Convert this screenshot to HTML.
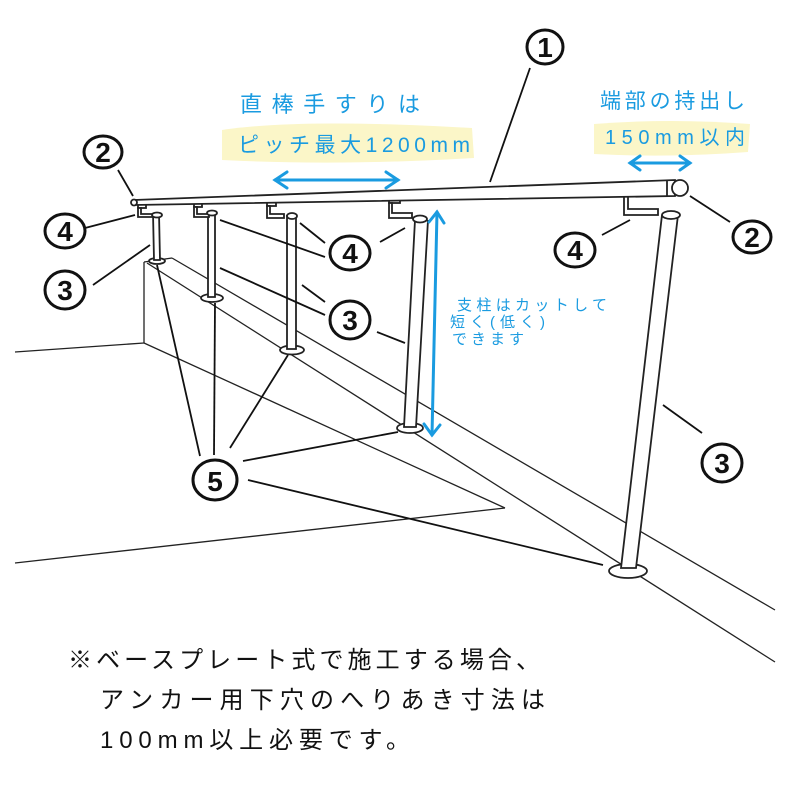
<!DOCTYPE html>
<html><head><meta charset="utf-8"><style>
html,body{margin:0;padding:0;background:#fff;}
svg{display:block;}
.b{font-family:"Liberation Sans","Noto Sans CJK JP",sans-serif;}
</style></head><body>
<svg width="800" height="800" viewBox="0 0 800 800" xmlns="http://www.w3.org/2000/svg">
<rect width="800" height="800" fill="#fff"/>
<path d="M222,130 Q300,118 472,128 L474,158 Q340,166 222,160 Z" fill="#fbf6c8"/>
<path d="M594,124 Q670,118 750,124 L748,152 Q670,158 594,154 Z" fill="#fbf6c8"/>
<g stroke="#222" stroke-width="1.3" fill="none">
<line x1="15" y1="352" x2="144" y2="343"/>
<line x1="144" y1="262" x2="144" y2="343"/>
<line x1="144" y1="262" x2="172" y2="258"/>
<line x1="172" y1="258" x2="775" y2="610"/>
<line x1="147" y1="263" x2="775" y2="662"/>
<line x1="144" y1="343" x2="505" y2="508"/>
<line x1="15" y1="563" x2="505" y2="508"/>
</g>
<g stroke="#222" stroke-width="1.8" fill="#fff">
<ellipse cx="157" cy="261" rx="8" ry="3"/>
<path d="M153,213 L154,260 L160,260 L159,213"/>
<ellipse cx="212" cy="298" rx="11" ry="4"/>
<path d="M208,212 L208,297 L215,297 L215,212"/>
<ellipse cx="292" cy="350" rx="12" ry="4.5"/>
<path d="M287,215 L287,349 L296,349 L296,215"/>
<ellipse cx="410" cy="428" rx="13" ry="5"/>
<path d="M415,220 L404,427 L416,427 L428,220"/>
<ellipse cx="628" cy="571" rx="19" ry="7"/>
<path d="M662,215 L621,568 L636,568 L678,215"/>
</g>
<g stroke="#222" stroke-width="1.8" fill="#fff">
<rect x="138" y="203" width="8" height="5"/><path d="M141,208 v6 h12 v3 h-15 v-9z"/><ellipse cx="157" cy="215" rx="5" ry="2.5"/>
<rect x="194" y="202" width="8" height="5"/><path d="M197,207 v7 h12 v3 h-15 v-10z"/><ellipse cx="212" cy="213" rx="5" ry="2.5"/>
<rect x="267" y="200" width="9" height="6"/><path d="M270,206 v8 h14 v4 h-17 v-12z"/><ellipse cx="292" cy="216" rx="5" ry="3"/>
<rect x="389" y="196" width="11" height="7"/><path d="M392,203 v10 h20 v5 h-23 v-15z"/><ellipse cx="420" cy="219" rx="7" ry="3.5"/>
<rect x="624" y="188" width="14" height="8"/><path d="M628,196 v13 h30 v6 h-34 v-19z"/><ellipse cx="671" cy="215" rx="9" ry="4"/>
</g>
<g stroke="#222" stroke-width="1.8" fill="#fff">
<path d="M134,200 L675,180 L675,196 L134,205 Z"/>
<circle cx="134" cy="202.5" r="3"/>
<ellipse cx="680" cy="188" rx="8" ry="8"/>
<line x1="667" y1="181" x2="667" y2="196"/>
</g>
<g stroke="#1a9be0" stroke-width="3" fill="none" stroke-linecap="round">
<line x1="275" y1="180" x2="398" y2="180"/><polyline points="287,172 275,180 287,188"/><polyline points="386,172 398,180 386,188"/>
<line x1="630" y1="163" x2="690" y2="163"/><polyline points="640,156 630,163 640,170"/><polyline points="680,156 690,163 680,170"/>
<line x1="437" y1="212" x2="432" y2="435"/><polyline points="429,222 437,212 444,223"/><polyline points="424,424 432,435 440,425"/>
</g>
<g stroke="#111" stroke-width="1.8" fill="none">
<line x1="530" y1="68" x2="490" y2="182"/>
<line x1="118" y1="170" x2="133" y2="196"/>
<line x1="690" y1="196" x2="730" y2="222"/>
<line x1="85" y1="228" x2="135" y2="215"/>
<line x1="220" y1="220" x2="325" y2="257"/>
<line x1="300" y1="223" x2="325" y2="243"/>
<line x1="380" y1="242" x2="405" y2="228"/>
<line x1="602" y1="235" x2="630" y2="220"/>
<line x1="93" y1="285" x2="150" y2="245"/>
<line x1="220" y1="268" x2="325" y2="315"/>
<line x1="302" y1="285" x2="325" y2="302"/>
<line x1="377" y1="332" x2="405" y2="343"/>
<line x1="663" y1="405" x2="702" y2="433"/>
<line x1="157" y1="265" x2="200" y2="456"/>
<line x1="215" y1="303" x2="214" y2="455"/>
<line x1="288" y1="355" x2="230" y2="448"/>
<line x1="243" y1="461" x2="398" y2="432"/>
<line x1="248" y1="480" x2="603" y2="565"/>
</g>
<g stroke="#111" stroke-width="3" fill="#fff">
<ellipse cx="545" cy="47" rx="18" ry="17"/>
<ellipse cx="103" cy="152" rx="19" ry="16"/>
<ellipse cx="752" cy="237" rx="19" ry="16"/>
<ellipse cx="65" cy="231" rx="20" ry="17"/>
<ellipse cx="350" cy="253" rx="20" ry="17"/>
<ellipse cx="575" cy="250" rx="20" ry="17"/>
<ellipse cx="65" cy="290" rx="20" ry="19"/>
<ellipse cx="350" cy="320" rx="20" ry="19"/>
<ellipse cx="722" cy="463" rx="20" ry="19"/>
<ellipse cx="215" cy="480" rx="22" ry="20"/>
</g>
<g class="b" font-size="28" font-weight="bold" fill="#111" text-anchor="middle">
<text x="545" y="57">1</text>
<text x="103" y="162">2</text>
<text x="752" y="247">2</text>
<text x="65" y="241">4</text>
<text x="350" y="263">4</text>
<text x="575" y="260">4</text>
<text x="65" y="300">3</text>
<text x="350" y="330">3</text>
<text x="722" y="473">3</text>
<text x="215" y="491">5</text>
</g>
<g class="b" fill="#1a9be0">
<text x="240" y="112" font-size="22" textLength="180" lengthAdjust="spacing">直棒手すりは</text>
<text x="238" y="152" font-size="21" textLength="232" lengthAdjust="spacing">ピッチ最大1200mm</text>
<text x="600" y="108" font-size="21" textLength="145" lengthAdjust="spacing">端部の持出し</text>
<text x="605" y="144" font-size="20" textLength="140" lengthAdjust="spacing">150mm以内</text>
<text x="457" y="310" font-size="15" textLength="150" lengthAdjust="spacing">支柱はカットして</text>
<text x="450" y="327" font-size="15" textLength="95" lengthAdjust="spacing">短く(低く)</text>
<text x="452" y="344" font-size="15" textLength="72" lengthAdjust="spacing">できます</text>
</g>
<g class="b" fill="#111" font-size="24">
<text x="68" y="668" textLength="472" lengthAdjust="spacing">※ベースプレート式で施工する場合、</text>
<text x="100" y="708" textLength="445" lengthAdjust="spacing">アンカー用下穴のへりあき寸法は</text>
<text x="100" y="748" textLength="310" lengthAdjust="spacing">100mm以上必要です。</text>
</g>
</svg>
</body></html>
